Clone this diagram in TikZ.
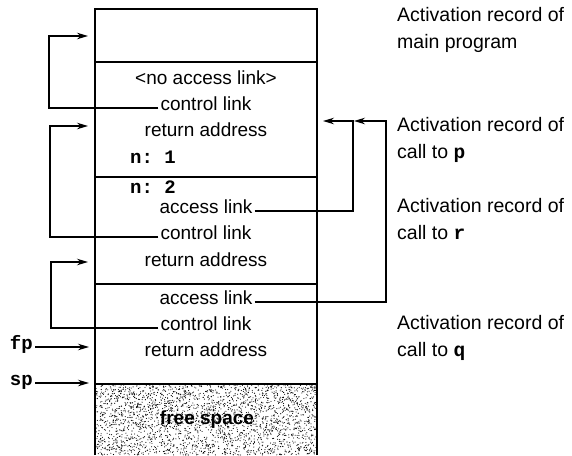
\documentclass[tikz,border=0pt]{standalone}
\usepackage{fontspec}
\setmainfont{Liberation Sans}
\setmonofont{Liberation Mono}
\usetikzlibrary{arrows.meta}
\begin{document}
\begin{tikzpicture}[x=1pt,y=-1pt,
  lbl/.style={font=\fontsize{19}{27}\selectfont, inner sep=2pt, text height=0.72em, text depth=0.2em},
  tt/.style={font=\fontsize{19}{27}\selectfont\ttfamily\bfseries, inner sep=2pt, text height=0.72em, text depth=0.2em},
  side/.style={font=\fontsize{19.5}{27}\selectfont, align=left, anchor=north west, inner sep=0pt},
  edge/.style={line width=1.4pt},
  arr/.style={line width=1.2pt, -{Stealth[length=11pt,width=6.5pt]}}]
\useasboundingbox (0,0) rectangle (572,455);
% free space stipple
\begin{scope}
\clip (95,384) rectangle (317,455);
\pgfmathsetseed{17}
\foreach \i in {1,...,2600} {\fill ({95+222*rnd},{384+71*rnd}) circle (0.55pt);}
\end{scope}
% stack outline
\draw[edge] (95,455) -- (95,9) -- (317,9) -- (317,455);
\draw[edge] (95,62) -- (317,62);
\draw[edge] (95,177) -- (317,177);
\draw[edge] (95,284) -- (317,284);
\draw[edge] (95,384) -- (317,384);
% texts in records
\node[lbl] (nal) at (206,82) {<no access link>};
\node[lbl] (cl1) at (206,108) {control link};
\node[lbl] (ra1) at (206,134) {return address};
\node[tt, anchor=west] (n1) at (128,161) {n:\ 1};
\node[tt, anchor=west] (n2) at (128,191) {n:\ 2};
\node[lbl] (al1) at (206,211) {access link};
\node[lbl] (cl2) at (206,237) {control link};
\node[lbl] (ra2) at (206,264) {return address};
\node[lbl] (al2) at (206,302) {access link};
\node[lbl] (cl3) at (206,328) {control link};
\node[lbl] (ra3) at (206,354) {return address};
\node[font=\fontsize{19}{27}\selectfont\bfseries, inner sep=1pt] (fs) at (207,420) {free space};
% fp / sp
\node[tt, anchor=east] (fp) at (35,347) {fp};
\node[tt, anchor=east] (sp) at (35,383) {sp};
\coordinate (fpt) at (89,347);
\coordinate (spt) at (89,383);
\draw[arr] (fp.east) -- (fpt);
\draw[arr] (sp.east) -- (spt);
% control links
\coordinate (c1) at (88,36);
\coordinate (c2) at (88,126);
\coordinate (c3) at (88,262);
\draw[arr] (cl1.west) -- (49,108) |- (c1);
\draw[arr] (cl2.west) -- (50,237) |- (c2);
\draw[arr] (cl3.west) -- (51,328) |- (c3);
% access links
\coordinate (a1) at (323,121);
\coordinate (a2) at (354,121);
\draw[arr] (al1.east) -- (353,211) |- (a1);
\draw[arr] (al2.east) -- (386,302) |- (a2);
% side labels
\node[side] (s1) at (397,7) {Activation record of\\main program};
\node[side] (s2) at (397,117) {Activation record of\\call to \texttt{\bfseries p}};
\node[side] (s3) at (397,198) {Activation record of\\call to \texttt{\bfseries r}};
\node[side] (s4) at (397,315) {Activation record of\\call to \texttt{\bfseries q}};
\end{tikzpicture}
\end{document}
